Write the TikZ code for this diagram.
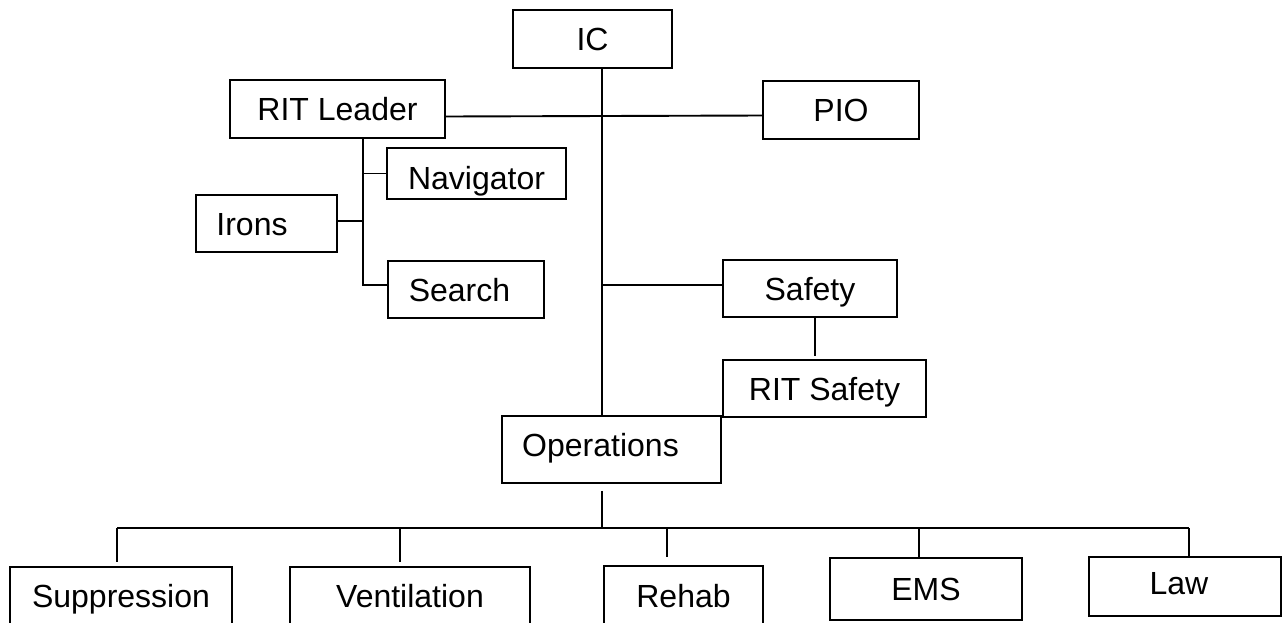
\documentclass[tikz,border=0pt]{standalone}
\usepackage{fontspec}
\setmainfont{Liberation Sans}
\begin{document}
\begin{tikzpicture}[x=1pt,y=-1pt,
  box/.style={draw, line width=1.9pt, inner sep=0pt, text height=23pt, text depth=0pt,
    font=\fontsize{32}{37}\selectfont},
  conn/.style={line width=1.9pt}]
\useasboundingbox (0,0) rectangle (1288,622);
\clip (0,0) rectangle (1288,622);
\fill[white] (0,0) rectangle (1288,622);
% top part
\node[box, minimum width=159pt, minimum height=58pt] (IC) at (592.5,39) {IC};
\node[box, minimum width=215pt, minimum height=58pt] (RITLeader) at (337.5,109) {RIT Leader};
\node[box, minimum width=156pt, minimum height=58pt] (PIO) at (841,110) {PIO};
\node[box, minimum width=179pt, minimum height=51pt, text height=31pt] (Navigator) at (476.5,173.5) {Navigator};
\node[box, minimum width=141pt, minimum height=57pt] (Irons) at (266.5,223.5) {\hspace*{-29pt}Irons};
\node[box, minimum width=156pt, minimum height=57pt] (Search) at (466,289.5) {\hspace*{-13pt}Search};
\node[box, minimum width=174pt, minimum height=57pt] (Safety) at (810,288.5) {Safety};
\node[box, minimum width=203pt, minimum height=57pt] (RITSafety) at (824.5,388.5) {RIT Safety};
\node[box, minimum width=219pt, minimum height=67pt, text depth=9pt] (Operations) at (611.5,449.5) {\hspace*{-22pt}Operations};
% bottom row
\node[box, minimum width=222pt, minimum height=58pt] (Suppression) at (121,596) {Suppression};
\node[box, minimum width=240pt, minimum height=58pt] (Ventilation) at (410,596) {Ventilation};
\node[box, minimum width=159pt, minimum height=59pt] (Rehab) at (683.5,595.5) {Rehab};
\node[box, minimum width=192pt, minimum height=62pt] (EMS) at (926,589) {EMS};
\node[box, minimum width=192pt, minimum height=59pt, text depth=8pt] (Law) at (1185,586.5) {\hspace*{-12pt}Law};
% coordinates
\coordinate (spine) at (602,0);
\coordinate (rt) at (363,285);
\coordinate (b1) at (117,528);
\coordinate (b2) at (400,528);
\coordinate (b3) at (667,528);
\coordinate (b4) at (919,528);
\coordinate (b5) at (1189,528);
% connectors
\draw[conn] (IC.south -| spine) -- (Operations.north -| spine);
\draw[conn] ([yshift=-7.5pt]RITLeader.east) -- ([yshift=-5.5pt]PIO.west);
\draw[conn] (RITLeader.south -| rt) -- (rt) -- (Search.west |- rt);
\draw[conn] (Navigator.west) -- (Navigator.west -| rt);
\draw[conn] ([yshift=2.5pt]Irons.east) -- ([yshift=2.5pt]Irons.east -| rt);
\draw[conn] ([yshift=3.5pt]Safety.west) -- ([yshift=3.5pt]Safety.west -| spine);
\draw[conn, shorten >=3pt] ([xshift=5pt]Safety.south) -- ([xshift=-9.5pt]RITSafety.north);
\draw[conn, shorten <=7pt] (Operations.south -| spine) -- (spine |- b1);
\draw[conn] (b1) -- (b5);
\draw[conn, shorten >=4pt] (b1) -- (Suppression.north -| b1);
\draw[conn, shorten >=4pt] (b2) -- (Ventilation.north -| b2);
\draw[conn, shorten >=8pt] (b3) -- (Rehab.north -| b3);
\draw[conn] (b4) -- (EMS.north -| b4);
\draw[conn] (b5) -- (Law.north -| b5);
\end{tikzpicture}
\end{document}
